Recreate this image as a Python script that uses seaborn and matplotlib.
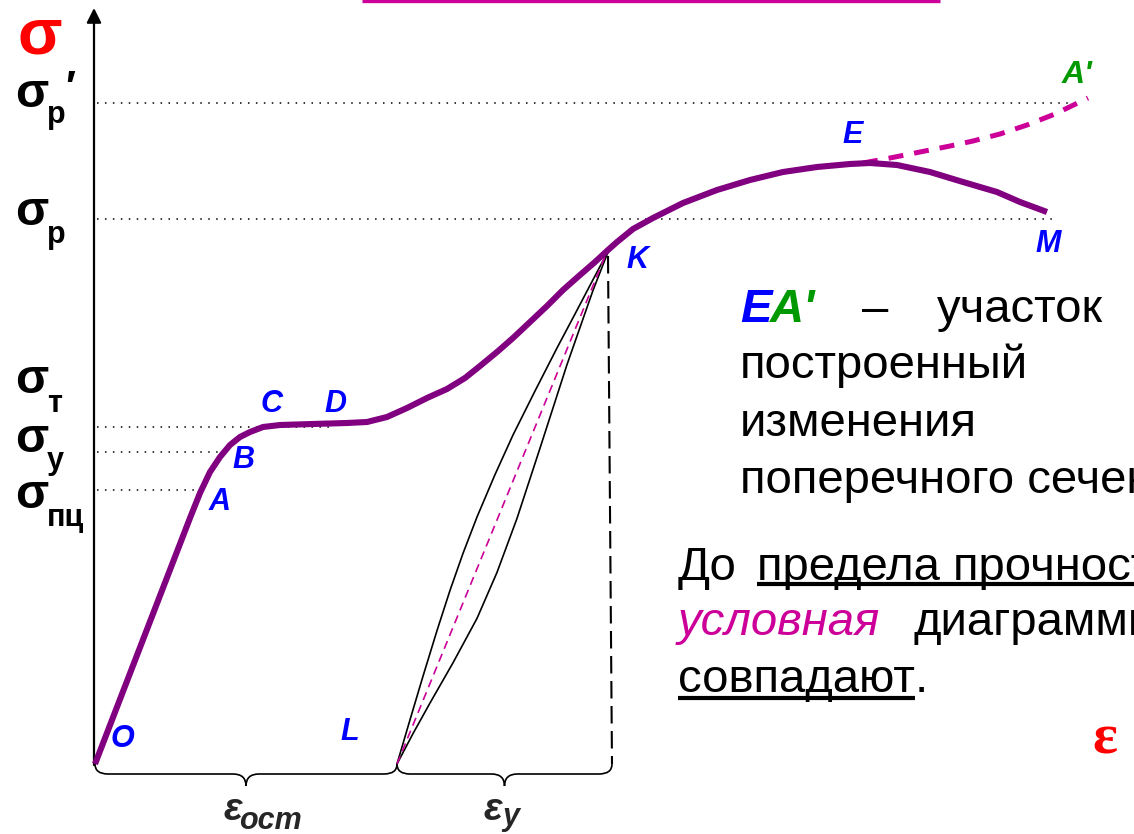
import matplotlib
matplotlib.use("Agg")
import matplotlib.pyplot as plt
from matplotlib.path import Path
from matplotlib.patches import PathPatch
import pandas as pd
import seaborn as sns

# ---- tension diagram of a ductile steel (conventional units) ----
# engineering curve O-A-B-C-D-K-E-M
strain = [0.0, 9.5, 10.5, 11.5, 12.5, 13.5, 14.5, 15.5, 16.8, 18.5, 21.8,
          25.2, 27.2, 29.2, 31.2, 33.2, 35.2, 37.0, 38.5, 40.2, 41.8, 43.5,
          45.2, 46.8, 48.5, 50.0, 51.3, 52.2, 53.8, 55.8, 58.8, 62.2, 65.5,
          68.8, 72.2, 75.5, 77.5, 80.2, 83.5, 86.8, 90.2, 92.5, 95.2]
stress = [0.0, 123.0, 135.5, 146.0, 153.5, 159.5, 163.5, 166.0, 168.5, 169.5,
          170.0, 170.5, 171.0, 173.5, 178.0, 183.0, 187.5, 193.0, 199.0, 206.0,
          213.0, 221.0, 229.0, 237.0, 244.5, 251.0, 257.0, 261.0, 267.5, 273.0,
          280.5, 287.0, 292.0, 296.0, 298.5, 300.0, 300.5, 299.5, 296.0, 291.0,
          286.0, 281.0, 276.0]

# true-stress branch E-A'
true_strain = [76.8, 79.5, 82.5, 85.5, 87.8, 90.5, 93.2, 96.0, 99.3]
true_stress = [300.5, 303.0, 306.0, 309.0, 311.5, 315.0, 319.5, 325.0, 333.0]

# unloading / reloading loop between L and K
unload_strain = [30.2, 31.5, 32.8, 34.2, 35.5, 36.8, 38.2, 40.0, 41.8, 44.0,
                 46.2, 48.0, 49.5, 50.5, 51.3]
unload_stress = [0.0, 22.1, 43.9, 66.7, 86.8, 105.3, 123.5, 144.7, 164.5,
                 186.5, 208.0, 225.0, 239.3, 248.8, 256.0]
reload_strain = [30.2, 31.8, 33.5, 35.8, 38.2, 40.2, 42.2, 44.5, 47.2, 49.8, 51.3]
reload_stress = [0.0, 15.2, 30.5, 50.6, 72.8, 95.8, 122.8, 157.9, 199.7, 236.8,
                 256.0]

# characteristic points
eps_L = 30.2          # residual strain
eps_K = 51.3          # strain at unloading point K
sigma_K = 256.0
eps_K_total = 51.7    # total strain at K projected to the axis

# stress levels on the ordinate
level_names = ["р'", "р", "т", "у", "пц"]
level_values = [330.5, 272.5, 168.5, 156.0, 137.0]
level_reach = [98.5, 95.8, 23.5, 13.2, 10.5]

sns.set_theme(style="white")
plt.rcParams["font.family"] = ["Liberation Sans", "DejaVu Sans"]

fig = plt.figure(figsize=(11.34, 8.34), dpi=100)
ax = fig.add_axes([0, 0, 1, 1])
ax.set_xlim(-9.5, 103.9)
ax.set_ylim(-35.0, 382.0)
ax.set_axis_off()

PURPLE = "#800080"
MAGENTA = "#CC0099"
BLUE = "#0000FF"
GREEN = "#009900"
RED = "#FF0000"

# dotted guide lines of the stress levels
for val, reach in zip(level_values, level_reach):
    ln, = ax.plot([0.2, reach], [val, val], color="black", lw=1.1, zorder=1)
    ln.set_dashes([1, 4.2])

# coordinate axes with arrows
ax.annotate("", xy=(-0.1, 378), xytext=(-0.1, -0.5),
            arrowprops=dict(arrowstyle="-|>", lw=1.6, color="black",
                            mutation_scale=22, shrinkA=0, shrinkB=0))
ax.annotate("", xy=(104.3, -0.4), xytext=(-0.1, -0.4),
            arrowprops=dict(arrowstyle="-|>", lw=1.6, color="black",
                            mutation_scale=22, shrinkA=0, shrinkB=0))

# loading curve
curve = pd.DataFrame({"eps": strain, "sigma": stress})
sns.lineplot(data=curve, x="eps", y="sigma", sort=False, estimator=None,
             color=PURPLE, lw=4.4, ax=ax, zorder=4,
             solid_capstyle="butt", solid_joinstyle="round")

# true-stress branch
sns.lineplot(x=true_strain, y=true_stress, sort=False, estimator=None,
             color=MAGENTA, lw=3.6, ax=ax, zorder=3)
ax.lines[-1].set_dashes([3.0, 2.2])

# unloading and reloading
for xs, ys in ((unload_strain, unload_stress), (reload_strain, reload_stress)):
    sns.lineplot(x=xs, y=ys, sort=False, estimator=None, color="black",
                 lw=1.2, ax=ax, zorder=3, solid_joinstyle="round")
sns.lineplot(x=[eps_L, eps_K - 0.2], y=[0.0, sigma_K - 1.0], sort=False,
             estimator=None, color=MAGENTA, lw=1.2, ax=ax, zorder=3)
ax.lines[-1].set_dashes([5, 3.3])

# projection of K onto the strain axis
sns.lineplot(x=[eps_K, eps_K_total], y=[sigma_K - 2, 0.0], sort=False,
             estimator=None, color="black", lw=1.5, ax=ax, zorder=2)
ax.lines[-1].set_dashes([8.4, 3.6])


def brace(x0, x1, top=0.0, shoulder=-5.0, tip=-11.0, r=1.3):
    xm = 0.5 * (x0 + x1)
    verts = [(x0, top), (x0, shoulder), (x0 + r, shoulder),
             (xm - r, shoulder), (xm, shoulder), (xm, tip),
             (xm, shoulder), (xm + r, shoulder),
             (x1 - r, shoulder), (x1, shoulder), (x1, top)]
    codes = [Path.MOVETO, Path.CURVE3, Path.CURVE3,
             Path.LINETO, Path.CURVE3, Path.CURVE3,
             Path.CURVE3, Path.CURVE3,
             Path.LINETO, Path.CURVE3, Path.CURVE3]
    ax.add_patch(PathPatch(Path(verts, codes), fill=False, lw=1.2,
                           edgecolor="black", zorder=3))


brace(0.0, eps_L)
brace(eps_L, eps_K_total)

# axis symbols
ax.text(-7.7, 355.5, "σ", color=RED, fontsize=47, fontweight="bold",
        va="baseline", ha="left")
ax.text(99.7, 5.5, "ε", color=RED, fontsize=42, fontweight="bold",
        family=["Liberation Serif", "DejaVu Serif"], va="baseline", ha="left")

# stress level labels
sig_base = [328.5, 269.5, 185.5, 156.0, 128.0]
sub_base = [320.5, 260.5, 176.0, 147.5, 119.0]
for name, yb, ys in zip(level_names, sig_base, sub_base):
    ax.text(-8.0, yb, "σ", fontsize=35, fontweight="bold", color="black",
            va="baseline", ha="left")
    sub = name.rstrip("'")
    ax.text(-4.8, ys, sub, fontsize=22, fontweight="bold", color="black",
            va="baseline", ha="left")
    if name.endswith("'"):
        ax.text(-3.0, 332.0, "′", fontsize=30, fontweight="bold",
                color="black", va="baseline", ha="left")

# point labels
pt_style = dict(fontsize=22, fontweight="bold", fontstyle="italic",
                va="baseline", ha="left")
point_labels = {"O": (1.6, 8.5), "A": (11.4, 127.0), "B": (13.7, 148.0),
                "C": (16.6, 176.0), "D": (22.9, 176.0), "L": (24.5, 12.0),
                "K": (53.1, 248.0), "E": (74.7, 310.5), "M": (94.0, 256.0)}
for lab, (x, y) in point_labels.items():
    ax.text(x, y, lab, color=BLUE, **pt_style)
ax.text(96.7, 340.5, "A'", color=GREEN, fontsize=23, fontweight="bold",
        fontstyle="italic", va="baseline", ha="left")

# strain labels under the braces
ax.text(12.8, -28.0, "ε", fontsize=28, fontweight="bold", fontstyle="italic",
        va="baseline", ha="left")
ax.text(14.4, -32.3, "ост", fontsize=22, fontweight="bold", fontstyle="italic",
        va="baseline", ha="left")
ax.text(38.9, -28.0, "ε", fontsize=28, fontweight="bold", fontstyle="italic",
        va="baseline", ha="left")
ax.text(40.7, -30.5, "у", fontsize=22, fontweight="bold", fontstyle="italic",
        va="baseline", ha="left")

# explanatory text
fig.canvas.draw()
renderer = fig.canvas.get_renderer()
inv = ax.transData.inverted()


def right_edge(t):
    bb = t.get_window_extent(renderer)
    return inv.transform((bb.x1, bb.y0))[0]


txt = dict(fontsize=34, va="baseline", ha="left", color="black")
tE = ax.text(64.5, 221.0, "E", color=BLUE, fontsize=34, fontweight="bold",
             fontstyle="italic", va="baseline", ha="left")
fig.canvas.draw()
ax.text(right_edge(tE) - 0.2, 221.0, "A'", color=GREEN, fontsize=34,
        fontweight="bold", fontstyle="italic", va="baseline", ha="left")
ax.text(76.7, 221.0, "–", **txt)
ax.text(84.2, 221.0, "участок", **txt)
ax.text(64.5, 193.0, "построенный", **txt)
ax.text(64.5, 164.0, "изменения", **txt)
ax.text(64.5, 135.5, "поперечного сечения", **txt)

ax.text(58.3, 92.0, "До", **txt)
ax.text(66.2, 92.0, "предела прочности", **txt)
ax.text(58.3, 64.5, "условная", fontsize=34, fontstyle="italic", color=MAGENTA,
        va="baseline", ha="left")
ax.text(81.8, 64.5, "диаграммы", **txt)
t_sov = ax.text(58.3, 36.0, "совпадают", **txt)
fig.canvas.draw()
x_end = right_edge(t_sov)
ax.text(x_end, 36.0, ".", **txt)

# underlines
ax.plot([66.2, 104.0], [90.0, 90.0], color="black", lw=3.0,
        solid_capstyle="butt")
ax.plot([58.3, x_end], [33.0, 33.0], color="black", lw=3.0,
        solid_capstyle="butt")
ax.plot([26.7, 84.5], [381.3, 381.3], color=MAGENTA, lw=2.4,
        solid_capstyle="butt")

fig.savefig("out.png", dpi=100)
